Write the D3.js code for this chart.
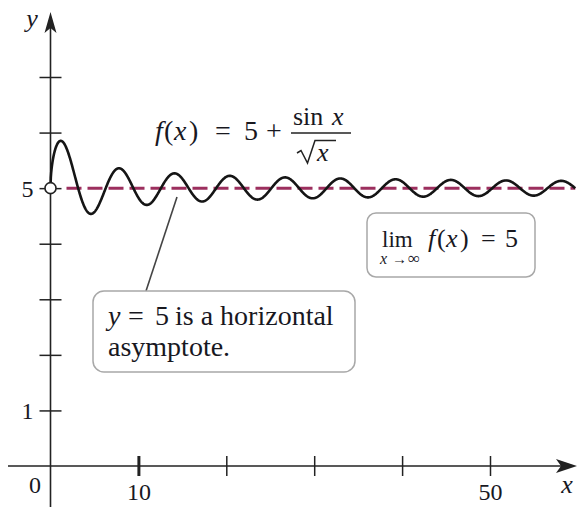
<!DOCTYPE html>
<html><head><meta charset="utf-8">
<script src="https://cdn.jsdelivr.net/npm/d3@7"></script>
<style>
body{margin:0;background:#fff}
</style>
</head><body>
<svg id="chart" width="578" height="507" style="font-family:'Liberation Serif','DejaVu Serif',serif"></svg>
<script>
// Axis ticks and labels
const xTicks = [10, 20, 30, 40, 50];
const xTickLabels = ["10", "", "", "", "50"];
const yTicks = [1, 2, 3, 4, 5, 6, 7];
const yTickLabels = ["1", "", "", "", "5", "", ""];
// Horizontal asymptote and plotted range of the function
const asymptoteValue = [5];
const plotRange = [0, 59.7];
const sampleCount = 1600;

// f(x) = 5 + sin x / sqrt(x), the function named in the label
function f(x) { return x === 0 ? 5 : 5 + Math.sin(x) / Math.sqrt(x); }
const samples = d3.range(sampleCount + 1).map(i => {
  const x = plotRange[0] + (plotRange[1] - plotRange[0]) * i / sampleCount;
  return [x, f(x)];
});

const FONT = "'Liberation Serif','DejaVu Serif',serif";
const TEXT_INK = "#18181f";
const svg = d3.select("#chart");
const x = d3.scaleLinear().domain([0, 50]).range([50.5, 490]);
const y = d3.scaleLinear().domain([0, 7]).range([466, 77]);
const ink = "#222";

// places one run of text; italic for math variables
function put(str, px, py, size, italic, anchor) {
  return svg.append("text").attr("x", px).attr("y", py)
    .attr("font-family", FONT).attr("font-size", size)
    .attr("font-style", italic ? "italic" : "normal")
    .attr("text-anchor", anchor || "start")
    .attr("fill", TEXT_INK).text(str);
}

// x axis
const gx = svg.append("g").attr("transform", `translate(0,${y(0)})`)
  .call(d3.axisBottom(x).tickValues(xTicks).tickSize(0).tickFormat((d, i) => xTickLabels[i]));
gx.select(".domain").remove();
gx.attr("font-family", FONT);
gx.selectAll(".tick line").attr("y1", -10).attr("y2", 10)
  .attr("stroke", ink).attr("stroke-width", (d) => d === 10 ? 3 : 1.5);
gx.selectAll(".tick text").attr("dy", null).attr("y", 34)
  .attr("font-family", FONT).attr("font-size", 24).attr("fill", TEXT_INK);
svg.append("line").attr("x1", 8).attr("x2", 565).attr("y1", y(0)).attr("y2", y(0))
  .attr("stroke", ink).attr("stroke-width", 1.6);
svg.append("path")
  .attr("d", `M577,${y(0)} L556,${y(0) - 7} L561,${y(0)} L556,${y(0) + 7} Z`)
  .attr("fill", ink);

// y axis
const gy = svg.append("g").attr("transform", `translate(${x(0)},0)`)
  .call(d3.axisLeft(y).tickValues(yTicks).tickSize(0).tickFormat((d, i) => yTickLabels[i]));
gy.select(".domain").remove();
gy.attr("font-family", FONT);
gy.selectAll(".tick line").attr("x1", -11).attr("x2", 11)
  .attr("stroke", ink).attr("stroke-width", 1.5);
gy.selectAll(".tick text").attr("x", -17).attr("dy", "0.34em")
  .attr("font-family", FONT).attr("font-size", 24).attr("fill", TEXT_INK);
svg.append("line").attr("x1", x(0)).attr("x2", x(0)).attr("y1", 24).attr("y2", 507)
  .attr("stroke", ink).attr("stroke-width", 1.6);
svg.append("path")
  .attr("d", `M${x(0)},12 L${x(0) - 6},33 L${x(0)},28 L${x(0) + 6},33 Z`)
  .attr("fill", ink);

// axis names and origin
put("0", 35, 493, 24, false, "middle");
put("x", 567, 493, 26, true, "middle");
put("y", 32, 27, 26, true, "middle");

// dashed asymptote
svg.selectAll(".asym").data(asymptoteValue).join("line").attr("class", "asym")
  .attr("x1", x(0) + 16).attr("x2", x(plotRange[1]))
  .attr("y1", d => y(d)).attr("y2", d => y(d))
  .attr("stroke", "#9c2f5e").attr("stroke-width", 3).attr("stroke-dasharray", "15,6");

// function curve
svg.append("path").datum(samples)
  .attr("d", d3.line().x(d => x(d[0])).y(d => y(d[1])))
  .attr("fill", "none").attr("stroke", "#151515").attr("stroke-width", 2.6)
  .attr("stroke-linejoin", "round");

// open circle at x = 0
svg.append("circle").attr("cx", x(0)).attr("cy", y(f(0))).attr("r", 5.5)
  .attr("fill", "#fff").attr("stroke", "#222").attr("stroke-width", 1.6);

// formula label: f(x) = 5 + sin x / sqrt(x)
put("f", 155, 140, 28, true);
put("(", 164, 140, 28, false);
put("x", 174, 140, 28, true);
put(")", 189, 140, 28, false);
put("=", 215, 140, 28, false);
put("5", 244, 140, 28, false);
put("+", 266, 140, 28, false);
put("sin", 293, 125, 26, false);
put("x", 332, 125, 26, true);
svg.append("line").attr("x1", 291).attr("x2", 351).attr("y1", 133).attr("y2", 133)
  .attr("stroke", ink).attr("stroke-width", 1.5);
svg.append("path").attr("d", "M297,153 L301,150.5 L307.5,163 L315,140.5 L336,140.5")
  .attr("fill", "none").attr("stroke", ink).attr("stroke-width", 1.5);
put("x", 317, 161, 26, true);

// limit callout
svg.append("rect").attr("x", 367).attr("y", 213).attr("width", 168).attr("height", 64)
  .attr("rx", 9).attr("fill", "#fff").attr("stroke", "#a8a8a8").attr("stroke-width", 1.5);
put("lim", 382, 247, 23, false);
put("f", 428, 247, 26, true);
put("(", 437, 247, 26, false);
put("x", 446, 247, 26, true);
put(")", 460, 247, 26, false);
put("=", 481, 247, 26, false);
put("5", 505, 247, 26, false);
put("x", 380, 264, 16, true);
put("\u2192", 392, 264, 15, false);
put("\u221E", 408, 264, 17, false);

// asymptote callout with leader line
svg.append("line").attr("x1", 177).attr("y1", 197).attr("x2", 146).attr("y2", 291)
  .attr("stroke", "#444").attr("stroke-width", 1.6);
svg.append("rect").attr("x", 93).attr("y", 291).attr("width", 262).attr("height", 81)
  .attr("rx", 11).attr("fill", "#fff").attr("stroke", "#a8a8a8").attr("stroke-width", 1.5);
put("y", 108, 325, 28, true);
put("=", 128, 325, 28, false);
put("5", 155, 325, 28, false);
put("is a horizontal", 175, 325, 28, false);
put("asymptote.", 108, 356, 28, false);
</script>
</body></html>
